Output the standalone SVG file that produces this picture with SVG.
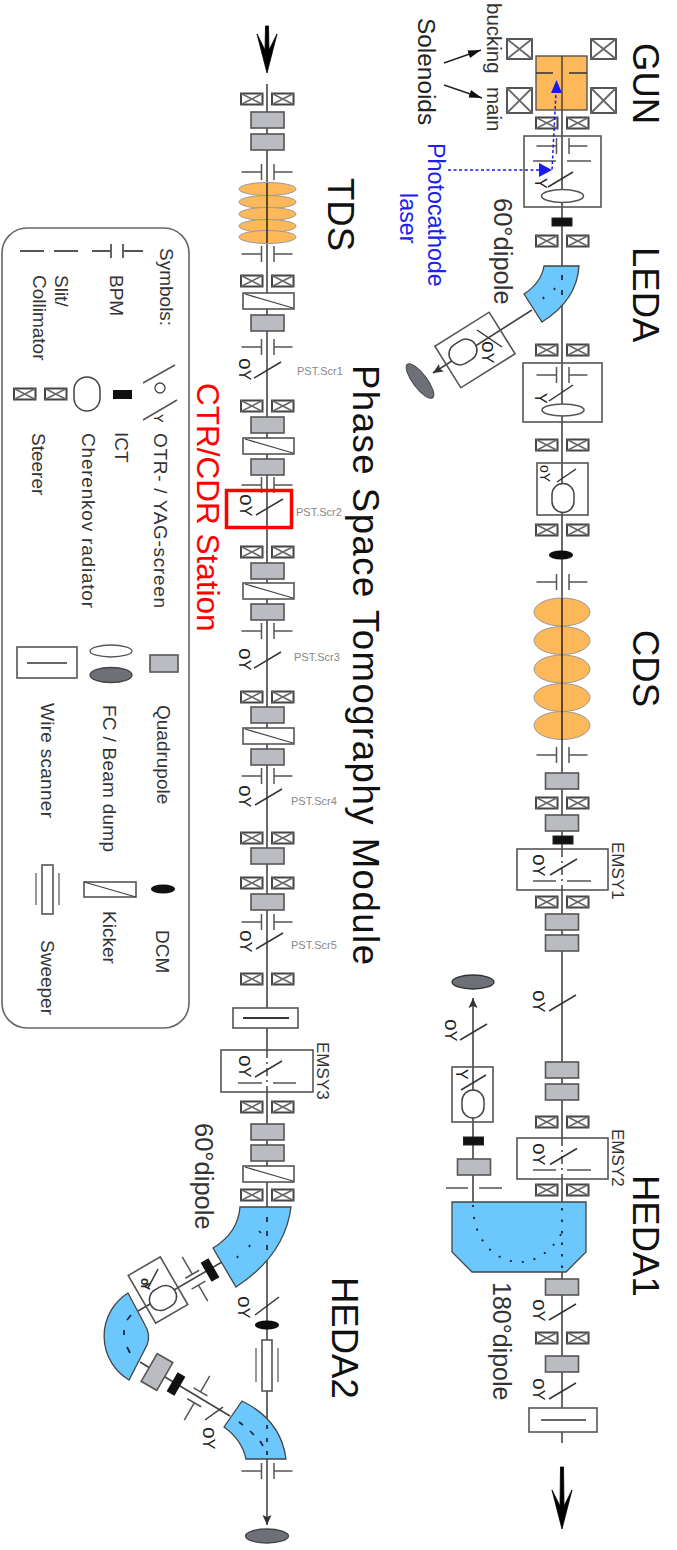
<svg xmlns="http://www.w3.org/2000/svg" width="677" height="1550" viewBox="0 0 677 1550">
<style>
text{font-family:"Liberation Sans",Arial,sans-serif;fill:#222}
.h{font-size:36.5px;fill:#111}
.l{font-size:25.5px;fill:#333}
.leg{font-size:19px;fill:#333}
.oy{font-size:16px;fill:#222}
.oy tspan{font-size:21px}
.pst{font-size:11px;fill:#888}
.em{font-size:17px;fill:#333}
.beam{fill:none;stroke:#444;stroke-width:1.6}
.box{fill:none;stroke:#555;stroke-width:1.6}
.wbox{fill:#fff;stroke:#555;stroke-width:1.6}
.ln{fill:none;stroke:#555;stroke-width:1.5}
.dk{fill:none;stroke:#333;stroke-width:1.5}
.dip{fill:#6cc7fd;stroke:#444;stroke-width:1.3}
.org{fill:#fdb85a;stroke:#999;stroke-width:1}
.dot{fill:none;stroke:#223;stroke-width:1.7}
.blue{fill:none;stroke:#1a1aee;stroke-width:1.5;stroke-dasharray:3 2.5}
</style>
<defs>
<marker id="ah" markerUnits="userSpaceOnUse" markerWidth="11" markerHeight="10" refX="10" refY="5" orient="auto"><path d="M0 0.5L10 5L0 9.5L2 5Z" fill="#333"/></marker>
<marker id="ah2" markerUnits="userSpaceOnUse" markerWidth="14" markerHeight="10" refX="13" refY="5" orient="auto"><path d="M0 1L13 5L0 9Z" fill="#111"/></marker>
<g id="st"><g fill="#fff" stroke="#444" stroke-width="2"><rect x="-26" y="-5.5" width="21.5" height="11"/><rect x="5" y="-5.5" width="21.5" height="11"/></g><path d="M-26-5.500L-4.500 5.500M-26 5.500L-4.500-5.500M5-5.500L26.500 5.500M5 5.500L26.500-5.500" stroke="#666" stroke-width="1.500" fill="none"/></g>
<rect id="q" x="-16.500" y="-8" width="33" height="16" fill="#babcc2" stroke="#555" stroke-width="1.6"/>
<path id="bpm" d="M-25.500 0H-5.500M-5.500-8V8M25.500 0H7M7-8V8" class="ln"/>
<path id="slit" d="M-29 0H-6M5 0H29" class="ln"/>
<line id="scr" x1="-13" y1="8" x2="14" y2="-8" class="dk"/>
<rect id="ict" x="-10" y="-4" width="20" height="8" fill="#111" stroke="#222"/>
<ellipse id="dcm" rx="12" ry="4.500" fill="#0c0c0c"/>
<g id="kick"><rect x="-25" y="-8" width="51" height="16" class="wbox"/><line x1="-23" y1="-7" x2="25" y2="7" stroke="#444" stroke-width="1.3"/></g>
<rect id="cher" x="-11" y="-14.500" width="22" height="29" rx="11" ry="11" fill="#fff" stroke="#444" stroke-width="1.5"/>
</defs>
<g id="connectors">
<line class="beam" x1="562" y1="56" x2="562" y2="1443"/>
<line class="beam" x1="532" y1="310" x2="433" y2="373" marker-end="url(#ah)"/>
<line class="beam" x1="473" y1="1205" x2="473" y2="998" marker-end="url(#ah)"/>
<line class="beam" x1="267" y1="84" x2="267" y2="1525" marker-end="url(#ah)"/>
<line class="beam" x1="222" y1="1262" x2="138" y2="1311"/>
<line class="beam" x1="140" y1="1362" x2="230" y2="1416"/>
</g>
<g id="title-labels">
<text class="h" transform="translate(633,43) rotate(90)">GUN</text>
<text class="h" transform="translate(633,247) rotate(90)">LEDA</text>
<text class="h" transform="translate(633,630) rotate(90)">CDS</text>
<text class="h" transform="translate(633,1175) rotate(90)">HEDA1</text>
<text class="h" transform="translate(328,178) rotate(90)">TDS</text>
<text class="h" transform="translate(353,365) rotate(90)" textLength="600">Phase Space Tomography Module</text>
<text class="h" transform="translate(332,1277) rotate(90)">HEDA2</text>
<text transform="translate(197,383) rotate(90)" style="font-size:31.500px;fill:#f00">CTR/CDR Station</text>
<text transform="translate(428,143) rotate(90)" style="font-size:23.300px;fill:#2020ee">Photocathode</text>
<text transform="translate(400,193) rotate(90)" style="font-size:23.300px;fill:#2020ee">laser</text>
<text class="l" transform="translate(494,198) rotate(90)">60°dipole</text>
<text class="l" transform="translate(195,1123) rotate(90)">60°dipole</text>
<text class="l" transform="translate(493,1282) rotate(90)" style="font-size:25px">180°dipole</text>
<text transform="translate(487,3) rotate(90)" style="font-size:20.500px;fill:#333">bucking</text>
<text transform="translate(487,87) rotate(90)" style="font-size:20.500px;fill:#333">main</text>
<text transform="translate(418,18) rotate(90)" style="font-size:24.400px;fill:#222">Solenoids</text>
</g>
<g id="gun"><rect x="536" y="56" width="51" height="54" fill="#fdb85a" stroke="#555" stroke-width="1.4"/><path d="M562 56V110M536 73H553M569 73H587" stroke="#333" stroke-width="1.3" fill="none"/></g>
<g id="solenoids" fill="#fff" stroke="#444" stroke-width="1.8">
<rect x="507" y="39" width="25" height="20"/><path d="M507 39L532 59M507 59L532 39" fill="none" stroke="#666"/>
<rect x="507" y="88" width="25" height="25"/><path d="M507 88L532 113M507 113L532 88" fill="none" stroke="#666"/>
<rect x="591" y="39" width="25" height="20"/><path d="M591 39L616 59M591 59L616 39" fill="none" stroke="#666"/>
<rect x="591" y="88" width="25" height="25"/><path d="M591 88L616 113M591 113L616 88" fill="none" stroke="#666"/>
</g>
<g id="a-st1"><use href="#st" x="562" y="123"/></g>
<g id="a-box1"><rect x="524" y="136" width="77" height="71" class="box"/><use href="#bpm" x="562" y="146"/><use href="#slit" x="562" y="161"/><line x1="548" y1="187" x2="573" y2="172" class="dk"/><text class="oy" transform="translate(535,178) rotate(90)">Y</text><ellipse cx="562.500" cy="196" rx="21" ry="6.500" class="wbox"/></g>
<g id="a-ict1"><use href="#ict" x="562" y="222"/></g>
<g id="a-st2"><use href="#st" x="562" y="241"/></g>
<g id="a-dipole60"><path class="dip" d="M544 266H579Q577 300 542 322L524 294Q541 283 544 266Z"/><path class="dot" d="M562 275V280M562 290V295M554 288L555 290M543 297L544 299"/></g>
<g id="a-branch-box"><g transform="translate(475,350) rotate(58)"><rect x="-24.500" y="-32" width="49" height="64" class="box"/></g><line x1="477" y1="330" x2="502" y2="347" class="dk"/><text class="oy" transform="translate(482,341) rotate(90)"><tspan>o</tspan>Y</text><g transform="translate(463,352) rotate(58)"><rect x="-11" y="-14.500" width="22" height="29" rx="11" ry="11" fill="#fff" stroke="#444" stroke-width="1.500"/></g></g>
<g id="a-dump1"><ellipse cx="420" cy="381" rx="21" ry="7" transform="rotate(53 420 381)" fill="#6d7077" stroke="#444"/></g>
<g id="a-st3"><use href="#st" x="562" y="350"/></g>
<g id="a-box2"><rect x="523" y="363" width="79" height="59" class="box"/><use href="#bpm" x="562" y="375"/><line x1="549" y1="401" x2="573" y2="385" class="dk"/><text class="oy" transform="translate(535,393) rotate(90)">Y</text><ellipse cx="563" cy="410" rx="21" ry="6" class="wbox"/></g>
<g id="a-st4"><use href="#st" x="562" y="445"/></g>
<g id="a-box3"><rect x="537" y="463" width="51" height="52" class="box"/><line x1="557" y1="482" x2="576" y2="469" class="dk"/><text transform="translate(540,465) rotate(90)" style="font-size:14px">oY</text><use href="#cher" x="563" y="498"/></g>
<g id="a-st5"><use href="#st" x="562" y="530"/></g>
<g id="a-dcm"><use href="#dcm" x="561" y="555"/></g>
<g id="a-bpm1"><use href="#bpm" x="562" y="582"/></g>
<g id="cds"><ellipse class="org" cx="562" cy="612" rx="28" ry="14"/><ellipse class="org" cx="562" cy="640.500" rx="28" ry="14"/><ellipse class="org" cx="562" cy="669" rx="28" ry="14"/><ellipse class="org" cx="562" cy="697.500" rx="28" ry="14"/><ellipse class="org" cx="562" cy="725.500" rx="28" ry="14"/><line x1="562" y1="598" x2="562" y2="740" stroke="#222" stroke-width="1.500"/></g>
<g id="a-bpm2"><use href="#bpm" x="562" y="755"/></g>
<g id="a-q1"><use href="#q" x="562" y="781"/></g>
<g id="a-st6"><use href="#st" x="562" y="803"/></g>
<g id="a-q2"><use href="#q" x="562" y="823"/></g>
<g id="a-ict2"><use href="#ict" x="563" y="840"/></g>
<g id="emsy1"><rect x="517" y="849" width="91" height="41" class="wbox"/><line x1="562" y1="849" x2="562" y2="890" stroke="#444" stroke-width="1.500" stroke-dasharray="8 4 2 4"/><path d="M533 881H556M567 881H591" class="ln"/><use href="#scr" x="563" y="867"/><text class="oy" transform="translate(533,854) rotate(90)"><tspan>o</tspan>Y</text><text class="em" transform="translate(612,842) rotate(90)">EMSY1</text></g>
<g id="a-st7"><use href="#st" x="562" y="902"/></g>
<g id="a-q3"><use href="#q" x="562" y="922"/></g>
<g id="a-q4"><use href="#q" x="562" y="943"/></g>
<g id="a-scr1"><use href="#scr" x="562" y="1003"/><text class="oy" transform="translate(533,990) rotate(90)"><tspan>o</tspan>Y</text></g>
<g id="a-q5"><use href="#q" x="562" y="1070"/></g>
<g id="a-q6"><use href="#q" x="562" y="1092"/></g>
<g id="a-st8"><use href="#st" x="562" y="1122"/></g>
<g id="emsy2"><rect x="517" y="1138" width="91" height="41" class="wbox"/><line x1="562" y1="1138" x2="562" y2="1179" stroke="#444" stroke-width="1.500" stroke-dasharray="8 4 2 4"/><path d="M533 1170H556M567 1170H591" class="ln"/><use href="#scr" x="563" y="1156.500"/><text class="oy" transform="translate(533,1143) rotate(90)"><tspan>o</tspan>Y</text><text class="em" transform="translate(612,1129) rotate(90)">EMSY2</text></g>
<g id="a-st9"><use href="#st" x="562" y="1190"/></g>
<g id="heda1-dipole"><path class="dip" d="M452 1202H586V1252L566 1272H472L452 1252Z"/><path d="M473 1205C473 1240 495 1262 520 1262C540 1262 556 1245 562 1232" fill="none" stroke="#123" stroke-width="1.800" stroke-dasharray="2 10"/><line x1="562" y1="1208" x2="562" y2="1272" stroke="#123" stroke-width="1.800" stroke-dasharray="2.500 9"/></g>
<g id="b-dump1"><ellipse cx="473" cy="982" rx="21" ry="7" fill="#6d7077" stroke="#333" stroke-width="1.300"/></g>
<g id="b-scr1"><use href="#scr" x="473" y="1032"/><text class="oy" transform="translate(445,1019) rotate(90)"><tspan>o</tspan>Y</text></g>
<g id="b-box"><rect x="452" y="1067" width="41" height="55" class="box"/><line x1="461" y1="1090" x2="486" y2="1075" class="dk"/><text class="oy" transform="translate(456,1069) rotate(90)">Y</text><rect x="462" y="1090" width="22" height="28" rx="11" ry="11" fill="#fff" stroke="#444" stroke-width="1.500"/></g>
<g id="b-ict"><use href="#ict" x="473.500" y="1141"/></g>
<g id="b-q"><use href="#q" x="474" y="1167"/></g>
<g id="b-slit"><path d="M446 1188H468M479 1188H502" class="ln"/></g>
<g id="a-q7"><use href="#q" x="562" y="1287"/></g>
<g id="a-scr2"><use href="#scr" x="562" y="1312"/><text class="oy" transform="translate(533,1299) rotate(90)"><tspan>o</tspan>Y</text></g>
<g id="a-st10"><use href="#st" x="562" y="1338"/></g>
<g id="a-q8"><use href="#q" x="562" y="1364"/></g>
<g id="a-scr3"><use href="#scr" x="562" y="1391"/><text class="oy" transform="translate(533,1378) rotate(90)"><tspan>o</tspan>Y</text></g>
<g id="a-wire"><rect x="529" y="1408" width="68" height="24" class="wbox"/><line x1="541" y1="1420" x2="586" y2="1420" class="dk"/></g>
<g id="arrow-out"><path d="M552 1490L560 1506L560.500 1467H563.500L564 1506L572 1490L562 1529Z" fill="#000" stroke="#000" stroke-width="0.800"/></g>
<g id="arrow-in"><path d="M257 34L265 50L265.500 26H268.500L269 50L277 34L267 73Z" fill="#000" stroke="#000" stroke-width="0.800"/></g>
<g id="c-st1"><use href="#st" x="267" y="99"/></g>
<g id="c-q1"><use href="#q" x="267.500" y="120"/></g>
<g id="c-q2"><use href="#q" x="267.500" y="142"/></g>
<g id="c-bpm1"><use href="#bpm" x="267" y="172"/></g>
<g id="tds"><ellipse class="org" cx="267.500" cy="189" rx="28.500" ry="6.500"/><ellipse class="org" cx="267.500" cy="202" rx="28.500" ry="6.500"/><ellipse class="org" cx="267.500" cy="214" rx="28.500" ry="6.500"/><ellipse class="org" cx="267.500" cy="226" rx="28.500" ry="6.500"/><ellipse class="org" cx="267.500" cy="237" rx="28.500" ry="6.500"/><line x1="267" y1="183" x2="267" y2="243" stroke="#222" stroke-width="1.500"/></g>
<g id="c-bpm2"><use href="#bpm" x="267" y="254"/></g>
<g id="c-st2"><use href="#st" x="267" y="281"/></g>
<g id="c-k1"><use href="#kick" x="268" y="301"/></g>
<g id="c-q3"><use href="#q" x="267.500" y="323"/></g>
<g id="c-bpm3"><use href="#bpm" x="267" y="347"/></g>
<g id="c-scr1"><use href="#scr" x="267" y="370"/><text class="oy" transform="translate(239,358) rotate(90)"><tspan>o</tspan>Y</text><text class="pst" x="297" y="375">PST.Scr1</text></g>
<g id="c-st3"><use href="#st" x="267" y="406"/></g>
<g id="c-q4"><use href="#q" x="267.500" y="425"/></g>
<g id="c-k2"><use href="#kick" x="268" y="446"/></g>
<g id="c-q5"><use href="#q" x="267.500" y="467"/></g>
<g id="c-bpm4"><use href="#bpm" x="267" y="485"/></g>
<g id="c-scr2"><use href="#scr" x="269" y="507"/><text class="oy" transform="translate(240,494) rotate(90)"><tspan>o</tspan>Y</text><text class="pst" x="296" y="516">PST.Scr2</text></g>
<g id="c-st4"><use href="#st" x="267" y="552"/></g>
<g id="c-q6"><use href="#q" x="267.500" y="571"/></g>
<g id="c-k3"><use href="#kick" x="268" y="591"/></g>
<g id="c-q7"><use href="#q" x="267.500" y="612"/></g>
<g id="c-bpm5"><use href="#bpm" x="267" y="631"/></g>
<g id="c-scr3"><use href="#scr" x="267" y="660"/><text class="oy" transform="translate(239,648) rotate(90)"><tspan>o</tspan>Y</text><text class="pst" x="294" y="661">PST.Scr3</text></g>
<g id="c-st5"><use href="#st" x="267" y="697"/></g>
<g id="c-q8"><use href="#q" x="267.500" y="715"/></g>
<g id="c-k4"><use href="#kick" x="268" y="736"/></g>
<g id="c-q9"><use href="#q" x="267.500" y="757"/></g>
<g id="c-bpm6"><use href="#bpm" x="267" y="776"/></g>
<g id="c-scr4"><use href="#scr" x="268" y="797"/><text class="oy" transform="translate(239,785) rotate(90)"><tspan>o</tspan>Y</text><text class="pst" x="291" y="805">PST.Scr4</text></g>
<g id="c-st6"><use href="#st" x="267" y="838"/></g>
<g id="c-q10"><use href="#q" x="267.500" y="856"/></g>
<g id="c-st7"><use href="#st" x="267" y="883"/></g>
<g id="c-q11"><use href="#q" x="267.500" y="902"/></g>
<g id="c-bpm7"><use href="#bpm" x="267" y="922"/></g>
<g id="c-scr5"><use href="#scr" x="269" y="941"/><text class="oy" transform="translate(240,930) rotate(90)"><tspan>o</tspan>Y</text><text class="pst" x="291" y="949">PST.Scr5</text></g>
<g id="c-st8"><use href="#st" x="267" y="979"/></g>
<g id="c-wire"><rect x="233" y="1008" width="65" height="20" class="wbox"/><line x1="243" y1="1018" x2="289" y2="1018" class="dk" style="stroke-width:2"/></g>
<g id="emsy3"><rect x="221" y="1050" width="92" height="42" class="wbox"/><line x1="267" y1="1050" x2="267" y2="1092" stroke="#444" stroke-width="1.500" stroke-dasharray="8 4 2 4"/><path d="M238 1083H262M273 1083H296" class="ln"/><use href="#scr" x="268" y="1069"/><text class="oy" transform="translate(239,1055) rotate(90)"><tspan>o</tspan>Y</text><text class="em" transform="translate(317,1042) rotate(90)">EMSY3</text></g>
<g id="c-st9"><use href="#st" x="267" y="1107"/></g>
<g id="c-q12"><use href="#q" x="267.500" y="1132"/></g>
<g id="c-q13"><use href="#q" x="267.500" y="1153"/></g>
<g id="c-k5"><use href="#kick" x="268" y="1174"/></g>
<g id="c-st10"><use href="#st" x="267" y="1195"/></g>
<g id="heda2-dipole1"><path class="dip" d="M240 1207H291Q285 1255 236 1287L213 1248Q238 1233 240 1207Z"/><path class="dot" d="M267 1217V1222M267 1231V1236M267 1245V1250M259 1231L261 1233M249 1247L250 1245M237 1258L238 1256"/></g>
<g id="c-scr6"><line x1="255" y1="1315" x2="279" y2="1297" class="dk"/><text class="oy" transform="translate(238,1296) rotate(90)"><tspan>o</tspan>Y</text></g>
<g id="c-dcm"><use href="#dcm" x="267" y="1325"/></g>
<g id="c-sweeper"><rect x="262" y="1340" width="10" height="51" class="wbox"/><path d="M256 1348V1382M278 1348V1382" class="ln" style="stroke:#777"/></g>
<g id="heda2-dipole2"><path class="dip" d="M242 1401Q281 1420 286 1459H246Q242 1440 224 1427Z"/><path class="dot" d="M267 1425V1429M267 1438V1442M267 1451V1455M239 1422L243 1425M250 1431L254 1435M260 1441L263 1446"/></g>
<g id="c-bpm8"><use href="#bpm" x="267" y="1471"/></g>
<g id="c-dump"><ellipse cx="267" cy="1536" rx="21.500" ry="7" fill="#6d7077" stroke="#444" stroke-width="1.300"/></g>
<g id="d-ict1"><g transform="translate(210,1270) rotate(60)"><rect x="-11" y="-4.500" width="22" height="9" fill="#111"/></g></g>
<g id="d-bpm1"><g transform="translate(195,1279) rotate(60)"><path d="M-25.500 0H-5.500M-5.500-8V8M25.500 0H7M7-8V8" class="ln"/></g></g>
<g id="d-box"><g transform="translate(158,1290) rotate(60)"><rect x="-27.500" y="-18.500" width="55" height="37" class="box"/></g><line x1="148" y1="1288" x2="158" y2="1269" class="dk"/><text transform="translate(141,1278) rotate(90)" style="font-size:12px;font-weight:bold;letter-spacing:-3px">oY</text><g transform="translate(163,1298) rotate(60)"><rect x="-11" y="-14" width="22" height="28" rx="11" ry="11" fill="#fff" stroke="#444" stroke-width="1.500"/></g></g>
<g id="heda2-dipole3"><path class="dip" d="M128 1293L145 1325Q151 1335 147 1345L129 1380A51 51 0 0 1 128 1293Z"/><path class="dot" d="M131 1315L127 1320M124 1330V1335M127 1347L130 1353"/></g>
<g id="d-q"><g transform="translate(157,1372) rotate(-60)"><rect x="-16" y="-9" width="32" height="18" fill="#babcc2" stroke="#555" stroke-width="1.600"/></g></g>
<g id="d-ict2"><g transform="translate(176,1384) rotate(-60)"><rect x="-11" y="-4.500" width="22" height="9" fill="#111"/></g></g>
<g id="d-bpm2"><g transform="translate(197,1398) rotate(-60)"><path d="M-25.500 0H-5.500M-5.500-8V8M25.500 0H7M7-8V8" class="ln"/></g></g>
<g id="d-scr"><line x1="205" y1="1420" x2="223" y2="1407" class="dk"/><text class="oy" transform="translate(203,1427) rotate(90)"><tspan>o</tspan>Y</text></g>
<g id="csr-station"><rect x="226.500" y="490.500" width="65" height="37" fill="none" stroke="#f00" stroke-width="3.500"/></g>
<g id="laser-and-solenoid-arrows">
<path class="blue" d="M448 170H552L556 92"/>
<path d="M539 163L552 170L539 177Z" fill="#1a1aee"/>
<path d="M556.500 80L551 93H562Z" fill="#1a1aee"/>
<line x1="444" y1="63" x2="481" y2="50" stroke="#222" stroke-width="1.400" marker-end="url(#ah2)"/>
<line x1="444" y1="85" x2="482" y2="98" stroke="#222" stroke-width="1.400" marker-end="url(#ah2)"/>
</g>
<g id="legend">
<rect x="2" y="228" width="187" height="800" rx="25" ry="25" fill="#fff" stroke="#666" stroke-width="1.600"/>
<text class="leg" transform="translate(160,248) rotate(90)">Symbols:</text>
<text class="leg" transform="translate(154,433) rotate(90)" textLength="175">OTR- / YAG-screen</text>
<text class="leg" transform="translate(110,275) rotate(90)">BPM</text>
<text class="leg" transform="translate(55,275) rotate(90)">Slit/</text>
<text class="leg" transform="translate(33,275) rotate(90)">Collimator</text>
<text class="leg" transform="translate(115,432) rotate(90)">ICT</text>
<text class="leg" transform="translate(82,433) rotate(90)" textLength="175">Cherenkov radiator</text>
<text class="leg" transform="translate(32,433) rotate(90)">Steerer</text>
<text class="leg" transform="translate(157,705) rotate(90)">Quadrupole</text>
<text class="leg" transform="translate(103,705) rotate(90)" textLength="147">FC / Beam dump</text>
<text class="leg" transform="translate(41,703) rotate(90)" textLength="115">Wire scanner</text>
<text class="leg" transform="translate(156,930) rotate(90)">DCM</text>
<text class="leg" transform="translate(103,911) rotate(90)">Kicker</text>
<text class="leg" transform="translate(41,940) rotate(90)">Sweeper</text>
<path d="M123 251H143M123 244V258M92 251H111M111 244V258M54 251H78M20 251H44" class="ln" style="stroke-width:1.800"/>
<path d="M143 383L175 365M143 420L177 400" class="ln"/>
<circle cx="160" cy="388" r="5" fill="none" stroke="#444" stroke-width="1.300"/>
<text transform="translate(154,414) rotate(90)" style="font-size:13px">Y</text>
<rect x="113" y="390" width="19" height="9" fill="#111"/>
<rect x="74" y="377" width="26" height="34" rx="13" ry="13" fill="#fff" stroke="#444" stroke-width="1.500"/>
<use href="#st" x="40" y="394"/>
<rect x="150" y="655" width="28" height="17" fill="#babcc2" stroke="#555" stroke-width="1.600"/>
<ellipse cx="111" cy="651" rx="21" ry="6" fill="#fff" stroke="#555" stroke-width="1.300"/>
<ellipse cx="111" cy="675" rx="21" ry="7.500" fill="#6d7077" stroke="#444" stroke-width="1.300"/>
<rect x="17" y="647" width="60" height="31" class="wbox"/>
<line x1="27" y1="663" x2="67" y2="663" class="dk"/>
<ellipse cx="163" cy="889" rx="12" ry="4.500" fill="#111"/>
<rect x="84" y="882" width="52" height="15" class="wbox"/>
<line x1="84" y1="882" x2="136" y2="897" stroke="#444" stroke-width="1.300"/>
<rect x="42" y="865" width="11" height="49" class="wbox"/>
<path d="M36 873V905M59 873V905" class="ln" style="stroke:#777"/>
</g>
</svg>
